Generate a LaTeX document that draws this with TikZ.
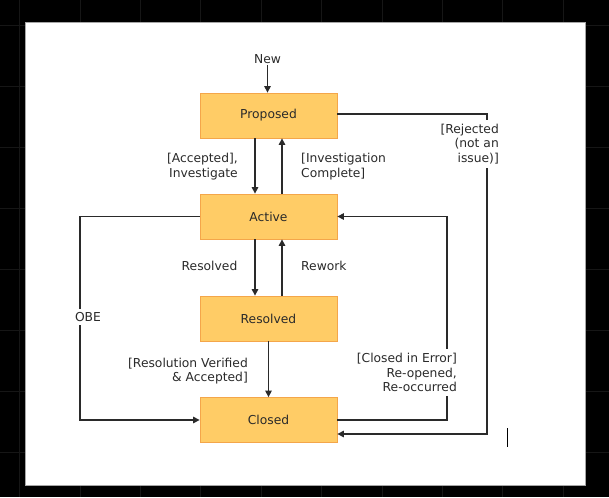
\documentclass[tikz,border=0pt]{standalone}
\usepackage{fontspec}
\setmainfont{DejaVu Sans}
\usetikzlibrary{arrows.meta,calc}
\definecolor{boxfill}{HTML}{FFCC66}
\definecolor{boxline}{HTML}{F4A64A}
\definecolor{ink}{HTML}{2A2A2A}
\definecolor{gridc}{HTML}{161616}
\begin{document}
\begin{tikzpicture}[x=1pt,y=-1pt,
  state/.style={draw=boxline, fill=boxfill, minimum width=137pt, minimum height=45pt,
    inner sep=0pt, text=ink, font=\fontsize{12.3}{14.6}\selectfont, line width=0.8pt},
  lbl/.style={text=ink, font=\fontsize{12.3}{14.6}\selectfont, inner sep=1pt},
  conn/.style={draw=ink, line width=1.3pt, -{Triangle[width=6.5pt,length=6.5pt]}}]
\useasboundingbox (0,0) rectangle (609,497);
\fill[black] (0,0) rectangle (609,497);
\foreach \k in {-1,...,9} \draw[gridc, line width=0.8pt] (80+60.4*\k,0) -- (80+60.4*\k,497);
\foreach \k in {-1,...,7} \draw[gridc, line width=0.8pt] (0,86+61*\k) -- (609,86+61*\k);
\filldraw[fill=white, draw=gray!70, line width=0.8pt] (25,22) rectangle (585,485);

\node[state] (prop) at (268.5,115.5) {Proposed};
\node[state] (act)  at (268.5,216.5) {Active};
\node[state] (res)  at (268.5,318.5) {Resolved};
\node[state] (clo)  at (268.5,420) {Closed};

\node[lbl] (new) at (267.5,59) {New};
\draw[conn] (new.south) -- (new.south |- prop.north);

\draw[conn] ($(prop.south)+(-13.5,0)$) -- ($(act.north)+(-13.5,0)$);
\draw[conn] ($(act.north)+(13.5,0)$) -- ($(prop.south)+(13.5,0)$);
\node[lbl, anchor=east, align=right] (acc) at (239,166.5) {[Accepted],\\Investigate};
\node[lbl, anchor=west, align=left] (inv) at (300,166.5) {[Investigation\\Complete]};

\draw[conn] ($(act.south)+(-13.5,0)$) -- ($(res.north)+(-13.5,0)$);
\draw[conn] ($(res.north)+(13.5,0)$) -- ($(act.south)+(13.5,0)$);
\node[lbl, anchor=east] (resl) at (238.5,266) {Resolved};
\node[lbl, anchor=west] (rew) at (300,266) {Rework};

\draw[conn] (res.south) -- (clo.north);
\node[lbl, anchor=east, align=right] (ver) at (249,371) {[Resolution Verified\\\& Accepted]};

\coordinate (obe1) at (80,216.5);
\draw[conn] (act.west) -- (obe1) |- (clo.west);
\node[lbl, fill=white, inner sep=3pt] (obe) at (88,317) {OBE};

\coordinate (rej1) at (487,114);
\draw[conn] (prop.east |- rej1) -- (rej1) |- ($(clo.east)+(0,14)$);
\node[lbl, fill=white, anchor=east, align=right, inner ysep=4pt] (rej) at (500,144) {[Rejected\\(not an\\issue)]};

\coordinate (err1) at (447,420);
\draw[conn] (clo.east) -- (err1) |- (act.east);
\node[lbl, fill=white, anchor=east, align=right, inner ysep=4pt] (err) at (458,372.5) {[Closed in Error]\\Re-opened,\\Re-occurred};

\draw[black, line width=1pt] (507,428) -- (507,447);
\end{tikzpicture}
\end{document}
